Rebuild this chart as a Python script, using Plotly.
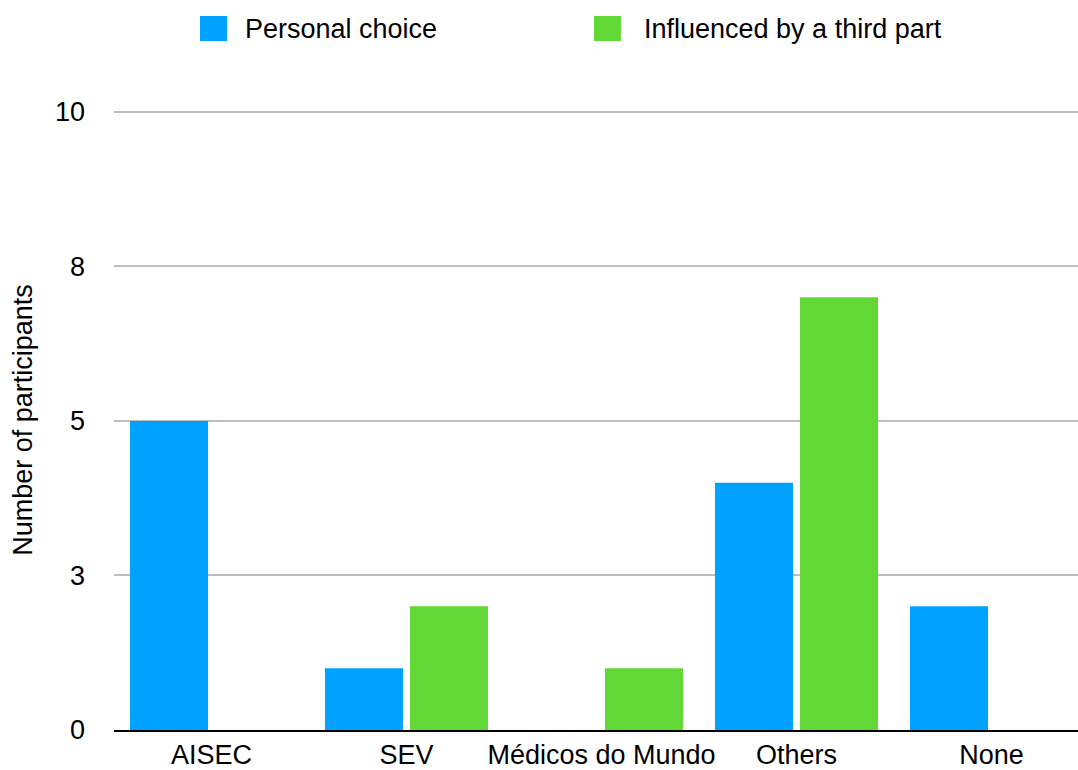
import plotly.graph_objects as go

# participants per organisation, split by how they got there
categories = ["AISEC", "SEV", "Médicos do Mundo", "Others", "None"]
personal_choice = [5, 1, 0, 4, 2]
third_part = [0, 2, 1, 7, 0]
series_names = ["Personal choice", "Influenced by a third part"]
series_colors = ["#00A2FF", "#61D836"]

y_tickvals = [0, 2.5, 5, 7.5, 10]
y_ticktext = ["0", "3", "5", "8", "10"]

W, H = 1078, 770
L, R, T, B = 114, 0, 110, 40
FONT = "Liberation Sans, Arial, Helvetica, sans-serif"
FS = 27


def px_x(x):
    return (x - L) / (W - L - R)


def px_y(y):
    return (H - B - y) / (H - T - B)


fig = go.Figure()
for name, vals, col in zip(series_names, [personal_choice, third_part], series_colors):
    fig.add_trace(go.Bar(x=categories, y=vals, name=name, marker_color=col,
                         marker_line_width=0, showlegend=False))

fig.update_layout(
    width=W, height=H,
    margin=dict(l=L, r=R, t=T, b=B),
    plot_bgcolor="white", paper_bgcolor="white",
    barmode="group", bargap=0.128, bargroupgap=0.082,
    font=dict(family=FONT, size=FS, color="#000000"),
)
fig.update_xaxes(range=[-0.5, -0.5 + (W - L - R) / 195], showgrid=False, showline=True,
                 linecolor="black", linewidth=2, ticks="", tickfont=dict(size=FS))
fig.update_yaxes(range=[0, 10.03], tickvals=y_tickvals, ticktext=y_ticktext,
                 showgrid=True, gridcolor="#bdbdbd", gridwidth=2,
                 zeroline=False, showline=False, ticks="",
                 ticklabelstandoff=28, tickfont=dict(size=FS),
                 title=dict(text="Number of participants", font=dict(size=FS), standoff=14))

# hand-drawn legend (big squares, like the original)
legend_pos = [(200, 243), (594, 642)]
for (sx, tx), name, col in zip(legend_pos, series_names, series_colors):
    fig.add_shape(type="rect", xref="paper", yref="paper",
                  x0=px_x(sx), x1=px_x(sx + 27), y0=px_y(16), y1=px_y(41),
                  fillcolor=col, line_width=0)
    fig.add_annotation(xref="paper", yref="paper", x=px_x(tx), y=px_y(29),
                       text=name, showarrow=False, xanchor="left", yanchor="middle",
                       font=dict(size=FS))

# page without body margin / scrollbars so the figure fills the window
fig.write_html("out.html", config={"displayModeBar": False},
               post_script="document.body.style.margin='0';"
                           "document.documentElement.style.overflow='hidden';")
